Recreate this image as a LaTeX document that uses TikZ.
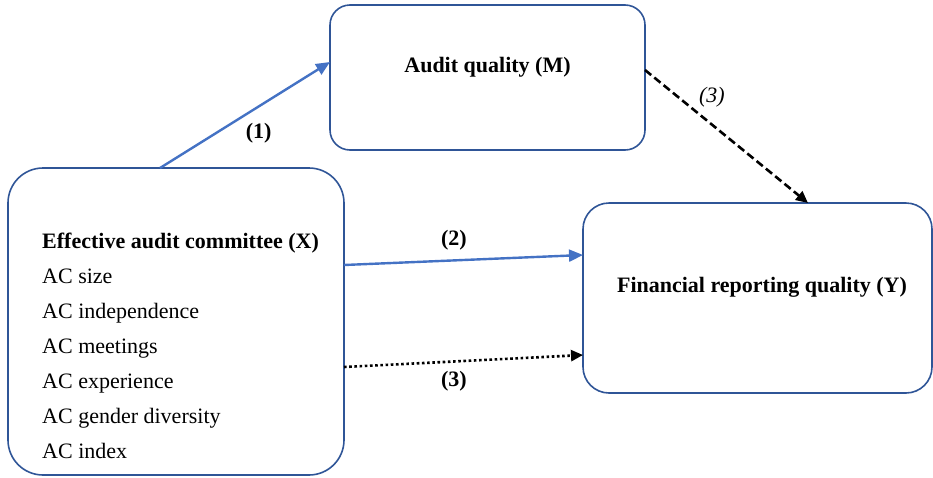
\documentclass[tikz,border=0pt]{standalone}
\usepackage{fontspec}
\setmainfont{Liberation Serif}
\definecolor{boxblue}{RGB}{47,85,151}
\definecolor{arrowblue}{RGB}{68,114,196}
\usetikzlibrary{arrows.meta, positioning, calc}

\tikzset{
  block/.style={draw=boxblue, line width=1.6pt, rounded corners=#1, inner sep=0pt, outer sep=0pt},
  block/.default=20pt,
  txt/.style={font=\fontsize{22}{26}\selectfont, text=black, inner sep=0pt},
  btxt/.style={font=\fontsize{22}{26}\selectfont\bfseries, text=black, inner sep=0pt},
  bluearrow/.style={arrowblue, line width=2.4pt, -{Triangle[length=14pt,width=12pt]}},
  dasharrow/.style={black, line width=2.6pt, dash pattern=on 8pt off 4pt, -{Triangle[length=12pt,width=11pt]}},
  dotarrow/.style={black, line width=2.6pt, dash pattern=on 2.6pt off 2.6pt, -{Triangle[length=12pt,width=11pt]}}
}

\begin{document}
\begin{tikzpicture}[x=1pt, y=-1pt]
  \useasboundingbox (0,0) rectangle (933,477);

  % Boxes
  \node[block=20pt, minimum width=315pt, minimum height=145pt] (aq) at (487.5,77.5) {};
  \node[block=35pt, minimum width=336pt, minimum height=307pt] (eac) at (176,321.5) {};
  \node[block=26pt, minimum width=349pt, minimum height=190pt] (frq) at (757.5,298) {};

  % Box texts
  \node[btxt] (aqtext) at ([yshift=10pt]aq.center) {Audit quality (M)};
  \node[btxt] (frqtext) at ([xshift=4.5pt, yshift=11pt]frq.center) {Financial reporting quality (Y)};
  \node[btxt, anchor=base west] (eactitle) at (42,248) {Effective audit committee (X)};
  \foreach \item [count=\i] in {AC size, AC independence, AC meetings, AC experience, AC gender diversity, AC index}
    \node[txt, anchor=base west] (eacitem\i) at (42,{248+35*\i}) {\item};

  % Paths
  \draw[bluearrow] ([xshift=-16pt]eac.north) -- ([yshift=15.5pt]aq.west)
    node[btxt, pos=0.58, yshift=-27pt] (lbla) {(1)};
  \draw[bluearrow] ([yshift=56.5pt]eac.east) -- ([yshift=43pt]frq.west)
    node[btxt, pos=0.46, yshift=20pt] (lblb) {(2)};
  \draw[dotarrow] ([yshift=-45.5pt]eac.east) -- ([yshift=-57pt]frq.west)
    node[btxt, pos=0.46, yshift=-20pt] (lblc) {(3)};
  \draw[dasharrow] ([yshift=7.5pt]aq.east) -- ([xshift=50.5pt]frq.north)
    node[txt, font=\fontsize{22}{26}\selectfont\itshape, pos=0.41, yshift=27pt] (lbld) {(3)};
\end{tikzpicture}
\end{document}
